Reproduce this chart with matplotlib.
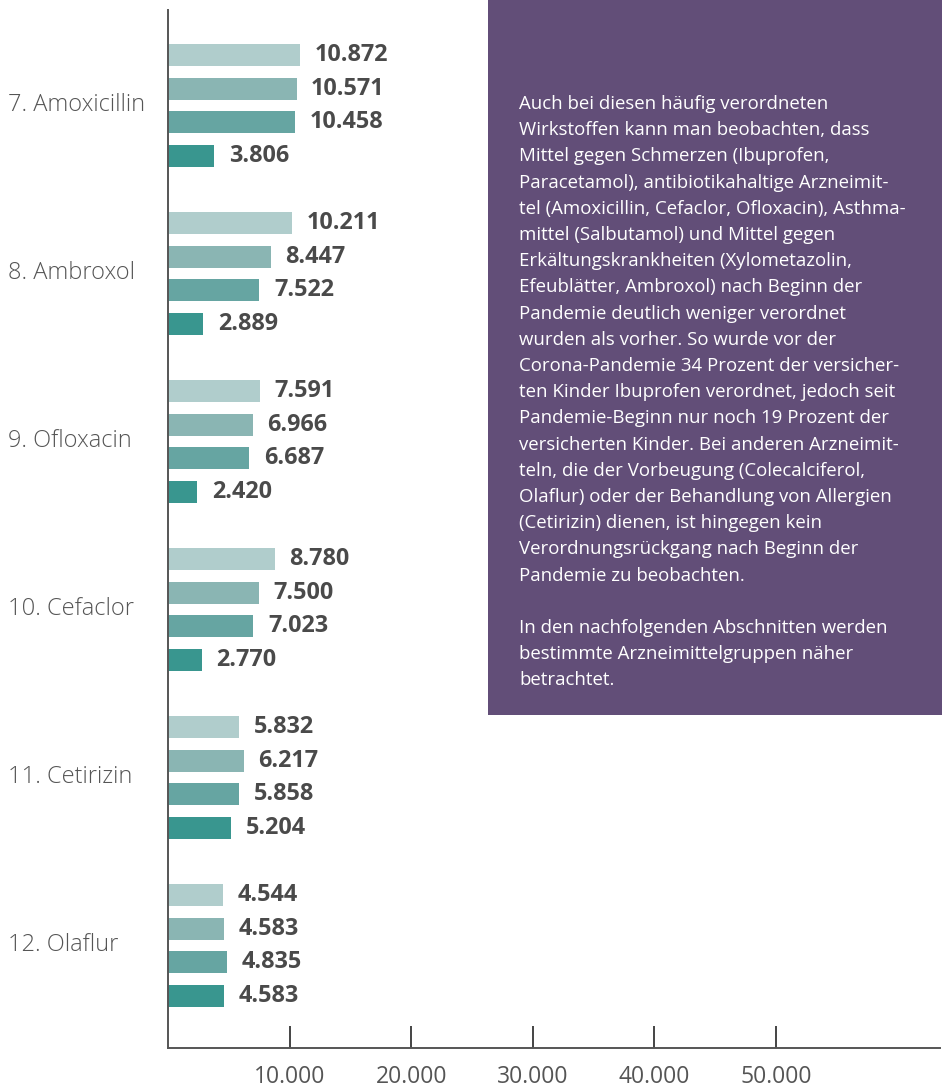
import matplotlib
matplotlib.use("Agg")
import matplotlib.pyplot as plt
from matplotlib.patches import Rectangle
from matplotlib.transforms import blended_transform_factory

plt.rcParams['font.family'] = ['Open Sans', 'DejaVu Sans']

# ---- data ----
categories = ["7. Amoxicillin", "8. Ambroxol", "9. Ofloxacin",
              "10. Cefaclor", "11. Cetirizin", "12. Olaflur"]
series_1 = [10872, 10211, 7591, 8780, 5832, 4544]
series_2 = [10571, 8447, 6966, 7500, 6217, 4583]
series_3 = [10458, 7522, 6687, 7023, 5858, 4835]
series_4 = [3806, 2889, 2420, 2770, 5204, 4583]
series = [series_1, series_2, series_3, series_4]
colors = ["#b0cdcc", "#8ab5b3", "#66a5a2", "#39968f"]

xticks = [10000, 20000, 30000, 40000, 50000]
xtick_labels = ["10.000", "20.000", "30.000", "40.000", "50.000"]

box_lines = [
    "Auch bei diesen häufig verordneten",
    "Wirkstoffen kann man beobachten, dass",
    "Mittel gegen Schmerzen (Ibuprofen,",
    "Paracetamol), antibiotikahaltige Arzneimit-",
    "tel (Amoxicillin, Cefaclor, Ofloxacin), Asthma-",
    "mittel (Salbutamol) und Mittel gegen",
    "Erkältungskrankheiten (Xylometazolin,",
    "Efeublätter, Ambroxol) nach Beginn der",
    "Pandemie deutlich weniger verordnet",
    "wurden als vorher. So wurde vor der",
    "Corona-Pandemie 34 Prozent der versicher-",
    "ten Kinder Ibuprofen verordnet, jedoch seit",
    "Pandemie-Beginn nur noch 19 Prozent der",
    "versicherten Kinder. Bei anderen Arzneimit-",
    "teln, die der Vorbeugung (Colecalciferol,",
    "Olaflur) oder der Behandlung von Allergien",
    "(Cetirizin) dienen, ist hingegen kein",
    "Verordnungsrückgang nach Beginn der",
    "Pandemie zu beobachten.",
    "",
    "In den nachfolgenden Abschnitten werden",
    "bestimmte Arzneimittelgruppen näher",
    "betrachtet.",
]

def de_fmt(v):
    return f"{v:,.0f}".replace(",", ".")

W, H = 942, 1088
fig = plt.figure(figsize=(W / 100, H / 100), dpi=100)
ax = fig.add_axes([168 / W, 1 - 1048 / H, (940 - 168) / W, (1048 - 10) / H])

bar_step = 0.2
bar_h = 0.131
for j, vals in enumerate(series):
    ys = [i + j * bar_step for i in range(len(categories))]
    ax.barh(ys, vals, height=bar_h, color=colors[j], zorder=2)
    for y, v in zip(ys, vals):
        ax.annotate(de_fmt(v), xy=(v, y), xytext=(10.5, 0), textcoords="offset points",
                    ha="left", va="center", fontsize=16.8, fontweight="bold",
                    color="#4a4a4a")

ax.set_xlim(0, 63500)
ax.set_ylim(5.911, -0.268)

ax.set_yticks([])
ax.set_xticks(xticks)
ax.set_xticklabels(xtick_labels, fontsize=16.5, color="#555555")
ax.tick_params(axis="x", direction="in", length=16, width=1.4, color="#444444", pad=12)

for s in ["top", "right"]:
    ax.spines[s].set_visible(False)
for s in ["left", "bottom"]:
    ax.spines[s].set_color("#555555")
    ax.spines[s].set_linewidth(1.4)

trans = blended_transform_factory(fig.transFigure, ax.transData)
for i, c in enumerate(categories):
    ax.text(8 / W, i + 1.5 * bar_step, c, transform=trans, ha="left", va="center",
            fontsize=17, color="#555555", fontweight="light")

# text box
rect = Rectangle((488 / W, 1 - 715 / H), 1 - 488 / W, 715 / H, transform=fig.transFigure,
                 facecolor="#624e78", edgecolor="none", zorder=5)
fig.add_artist(rect)
line_px = 26.2
for k, line in enumerate(box_lines):
    if line:
        fig.text(519 / W, 1 - (104 + k * line_px) / H, line, ha="left", va="center",
                 fontsize=13.4, color="#ffffff", zorder=6)

fig.savefig("out.png", dpi=100)
